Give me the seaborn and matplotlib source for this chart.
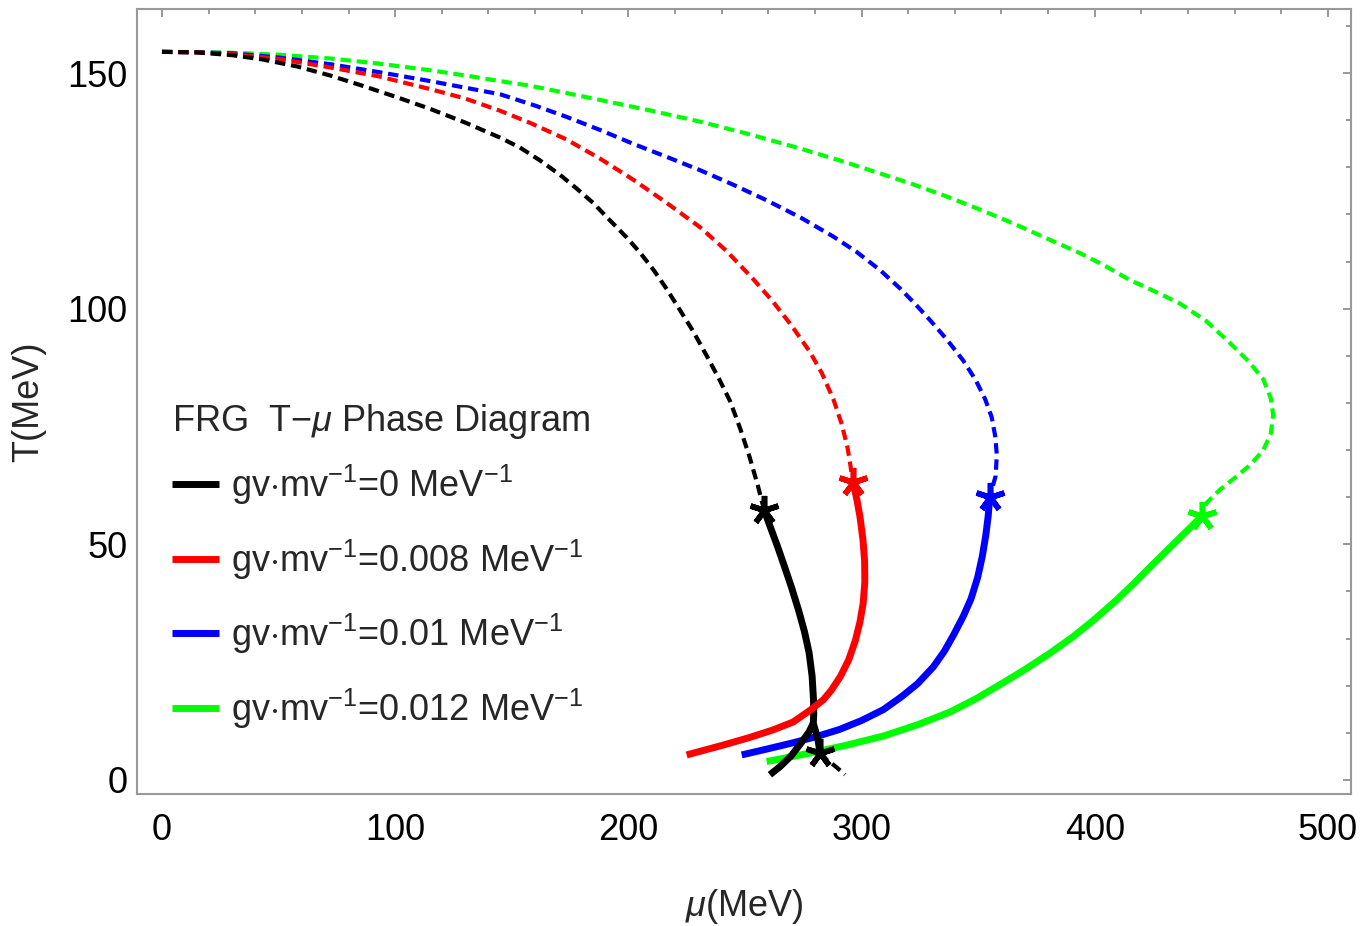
import numpy as np
import pandas as pd
import seaborn as sns
import matplotlib
matplotlib.use("Agg")
from matplotlib import pyplot as plt
from matplotlib.ticker import MultipleLocator

# values: (mu, T) in MeV

# gv/mv = 0
black_dash_mu = [0, 15, 30, 43, 58, 72, 86, 100, 115, 130, 145, 153.5, 162, 170.7, 177.8, 185, 192, 199.3, 205,
                 210.7, 216.4, 222, 227.8, 233.6, 239, 243.6, 248, 252, 255.5, 258.2]
black_dash_T = [154.5, 154.4, 153.8, 152.9, 151.4, 149.5, 147.3, 145.0, 142.4, 139.5, 136.3, 134.2, 131.5, 128.4,
                125.5, 122.4, 118.8, 115.1, 111.9, 108.3, 104.2, 99.8, 95.2, 90.0, 85.0, 80.4, 74.5, 68.5, 62.5,
                57.3]
black_solid_mu = [258.2, 261, 264, 267, 270, 273, 275.5, 277.5, 278.8, 279.4, 279.5, 279.3]
black_solid_T = [57.3, 53.5, 49.5, 45.2, 40.8, 36, 31.5, 27, 22, 17, 14, 12]
black_left_mu = [279.3, 277.5, 274, 270, 265, 260.7]
black_left_T = [12, 10.2, 7.8, 5.2, 2.8, 1.1]
black_right_mu = [279.3, 280.5, 281.5, 282.2]
black_right_T = [12, 10, 8, 5.7]
black_tail_mu = [282.2, 285, 289, 292.9]
black_tail_T = [5.7, 4.3, 2.8, 1.1]

# gv/mv = 0.008
red_dash_mu = [0, 15, 30, 50, 72, 93, 115, 130, 145, 158, 173.5, 188, 202, 216, 230.7, 242, 253.5, 262, 270,
               277.9, 283, 287.9, 291.5, 294, 295.3, 296.2]
red_dash_T = [154.5, 154.4, 154.0, 153.0, 151.2, 149.3, 146.6, 144.6, 142.0, 139.4, 135.9, 131.8, 127.4, 122.6,
              117.3, 112.3, 106.3, 101.5, 96.4, 90.8, 86.3, 80.8, 75.5, 70.5, 66.5, 63.3]
red_solid_mu = [296.2, 298, 299.3, 300.6, 301.3, 301.4, 300.7, 299.3, 297.3, 294.5, 291, 287, 283.6, 278, 270.7,
                262, 252, 240, 225]
red_solid_T = [63.3, 59.5, 55.9, 51, 46.5, 42, 37.5, 33.5, 29.5, 25.5, 22, 19, 17, 14.8, 12.3, 10.6, 9.0, 7.3, 5.3]

# gv/mv = 0.01
blue_dash_mu = [0, 15, 30, 50, 72, 93, 115, 130, 145, 160, 173.5, 188, 202, 216, 230.7, 245, 259.3, 274, 287.9,
                298, 307.9, 316.5, 323, 329.3, 336.5, 343.6, 349, 353, 355.8, 357.3, 358, 357.5, 355]
blue_dash_T = [154.5, 154.4, 154.2, 153.3, 151.9, 150.2, 148.3, 146.9, 145.5, 143.1, 140.7, 137.9, 135, 132.3,
               129.4, 126.3, 123, 119.3, 115.3, 112, 108.2, 104.3, 101, 97.6, 93.5, 89, 84.8, 80.8, 77, 73, 69,
               64.5, 60.1]
blue_solid_mu = [355, 354.3, 353.3, 351.8, 349.8, 347, 343.6, 339.5, 335.5, 330.8, 324, 317, 309.3, 300, 290.5,
                 280.7, 270, 259, 248.6]
blue_solid_T = [60.1, 56, 52, 47.5, 43, 38.5, 34.7, 30.8, 27.3, 24, 20.4, 17.6, 14.9, 12.6, 10.7, 9.2, 7.8, 6.5,
                5.3]

# gv/mv = 0.012
green_dash_mu = [0, 15, 30, 50, 72, 93, 115, 130, 145, 158, 172, 187.8, 209, 230.7, 252, 273.6, 291, 307.9, 322,
                 336.5, 351, 365, 379, 393.6, 404, 415, 426, 436.5, 448, 458, 466, 472.3, 475.5, 476.5, 475.5,
                 472.3, 467, 460.8, 453.5, 448, 445.8]
green_dash_T = [154.5, 154.45, 154.3, 153.9, 153.1, 152, 150.6, 149.5, 148.3, 147.3, 145.9, 144.3, 142.1, 139.7,
                137, 134, 131.4, 128.7, 126.4, 123.8, 121, 118.1, 115, 111.8, 109.2, 106.1, 103.6, 101.1, 97.3,
                92.7, 88.8, 85, 81, 77.5, 73.5, 70, 67, 64.4, 61.5, 58.8, 55.9]
green_solid_mu = [445.8, 438, 430.8, 424, 417, 409.4, 400, 390.5, 380.8, 370, 360, 349, 337.9, 324, 309.3, 293,
                  276, 259.3]
green_solid_T = [55.9, 52.1, 48.6, 45.3, 41.8, 38.2, 34.1, 30.3, 26.9, 23.4, 20.4, 17.2, 14.4, 11.7, 9.3, 7.3,
                 5.5, 3.9]

star_mu = [258.2, 296.2, 355, 445.8, 282.2]
star_T = [57.3, 63.3, 60.1, 55.9, 5.7]
star_colors = ["#000000", "#ff0000", "#0000ff", "#00ff00", "#000000"]

labels = [r"gv$\cdot$mv$^{-1}$=0 MeV$^{-1}$",
          r"gv$\cdot$mv$^{-1}$=0.008 MeV$^{-1}$",
          r"gv$\cdot$mv$^{-1}$=0.01 MeV$^{-1}$",
          r"gv$\cdot$mv$^{-1}$=0.012 MeV$^{-1}$"]

sns.set_theme(style="white")
plt.rcParams['font.family'] = ['Liberation Sans', 'DejaVu Sans']
plt.rcParams['mathtext.fontset'] = 'custom'
plt.rcParams['mathtext.rm'] = 'Liberation Sans'
plt.rcParams['mathtext.it'] = 'Liberation Sans:italic'

fig = plt.figure(figsize=(13.6, 9.26), dpi=100)
ax = fig.add_axes([0.1011, 0.1425, 0.8923, 0.8478])

SOLID_LW = 5
DASH_LW = 3
DASH = (2.5, 1.4)


def seg(mu, T, color, dashed=False, label=None):
    df = pd.DataFrame({"mu": mu, "T": T})
    kw = dict(x="mu", y="T", data=df, sort=False, estimator=None, color=color, ax=ax,
              solid_capstyle="butt", dash_capstyle="butt", solid_joinstyle="round")
    if dashed:
        sns.lineplot(lw=DASH_LW, dashes=False, linestyle=(0, DASH), **kw)
    else:
        sns.lineplot(lw=SOLID_LW, label=label, **kw)


seg(green_dash_mu, green_dash_T, "#00ff00", dashed=True)
seg(blue_dash_mu, blue_dash_T, "#0000ff", dashed=True)
seg(red_dash_mu, red_dash_T, "#ff0000", dashed=True)
seg(black_dash_mu, black_dash_T, "#000000", dashed=True)

seg(black_solid_mu, black_solid_T, "#000000", label=labels[0])
seg(red_solid_mu, red_solid_T, "#ff0000", label=labels[1])
seg(blue_solid_mu, blue_solid_T, "#0000ff", label=labels[2])
seg(green_solid_mu, green_solid_T, "#00ff00", label=labels[3])
seg(black_left_mu, black_left_T, "#000000")
seg(black_right_mu, black_right_T, "#000000")
seg(black_tail_mu, black_tail_T, "#000000", dashed=True)

for m, t, c in zip(star_mu, star_T, star_colors):
    ax.plot(m, t, marker=(5, 2, 0), ms=21, mew=4, color=c, zorder=5)

ax.set_xlim(-10.5, 509.9)
ax.set_ylim(-3.0, 163.6)
ax.xaxis.set_major_locator(MultipleLocator(100))
ax.xaxis.set_minor_locator(MultipleLocator(20))
ax.yaxis.set_major_locator(MultipleLocator(50))
ax.yaxis.set_minor_locator(MultipleLocator(10))
ax.tick_params(which="both", direction="in", top=True, right=True, color="#888888", width=1.2)
ax.tick_params(which="major", length=6, labelsize=26, labelcolor="black")
ax.tick_params(which="minor", length=3.5)
ax.tick_params(axis="x", which="major", pad=14)
ax.tick_params(axis="y", which="major", pad=7)
for s in ax.spines.values():
    s.set_color("#999999")
    s.set_linewidth(1.5)

ax.set_xlabel(r"$\mathit{\mu}$(MeV)", fontsize=26, labelpad=28)
ax.set_ylabel("T(MeV)", fontsize=26, labelpad=15)

leg = ax.legend(title=r"FRG  T$-\mathit{\mu}$ Phase Diagram", loc="upper left",
                bbox_to_anchor=(0.002, 0.541), frameon=False, fontsize=26, title_fontsize=26,
                handlelength=1.3, handletextpad=0.33, labelspacing=0.84, alignment="left")
# tighter gap between the title and the first entry
leg._legend_box.sep = 0.84 * 26 - 6
for h in leg.get_lines():
    h.set_linewidth(5)

plt.savefig("out.png", dpi=100)
